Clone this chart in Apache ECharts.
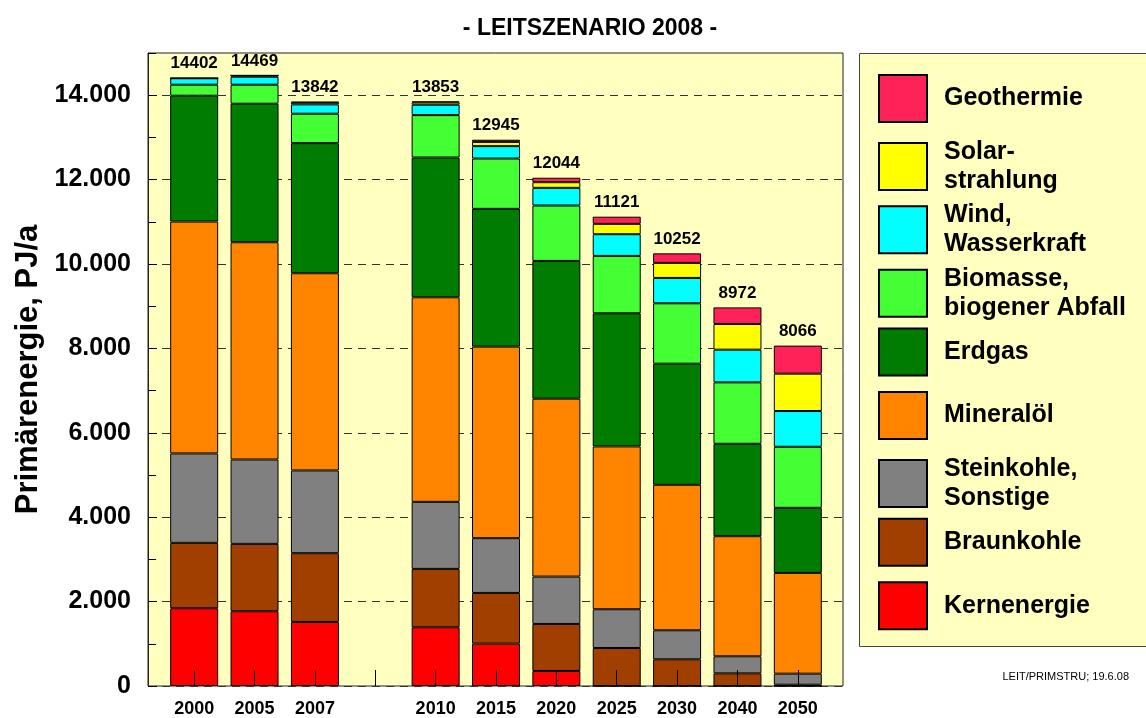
<!DOCTYPE html>
<html>
<head>
<meta charset="utf-8">
<title>Leitszenario 2008 – Primärenergie</title>
<script src="https://cdn.jsdelivr.net/npm/echarts@6/dist/echarts.min.js"></script>
<style>
  html, body { margin: 0; padding: 0; background: #fff; }
  #chart { width: 1146px; height: 718px; }
</style>
</head>
<body>
<div id="chart"></div>
<script>
// ── Daten (PJ/a) ─────────────────────────────────────────────
const years = ['2000', '2005', '2007', '', '2010', '2015', '2020', '2025', '2030', '2040', '2050']

const kernenergie = [1843, 1772, 1518, null, 1392, 1004, 356, 0, 0, 0, 0]
const braunkohle  = [1549, 1596, 1629, null, 1383, 1202, 1115, 901, 633, 300, 30]
const steinkohle  = [2119, 2000, 1961, null, 1589, 1297, 1122, 918, 687, 404, 262]
const mineraloel  = [5495, 5148, 4673, null, 4847, 4538, 4215, 3858, 3448, 2846, 2388]
const erdgas      = [2982, 3282, 3083, null, 3313, 3266, 3265, 3155, 2870, 2190, 1542]
const biomasse    = [261, 451, 697, null, 1004, 1193, 1313, 1360, 1431, 1455, 1447]
const wind        = [153, 189, 221, null, 246, 293, 419, 514, 601, 775, 847]
const solar       = [0, 31, 45, null, 55, 100, 133, 245, 356, 609, 885]
const geothermie  = [0, 0, 15, null, 24, 52, 106, 170, 226, 393, 665]

const totals = [14402, 14469, 13842, null, 13853, 12945, 12044, 11121, 10252, 8972, 8066]

const yTicks = [0, 2000, 4000, 6000, 8000, 10000, 12000, 14000]

// Reihenfolge von unten nach oben
const layers = [
  { name: 'Kernenergie',                   data: kernenergie, color: '#ff0000' },
  { name: 'Braunkohle',                    data: braunkohle,  color: '#a03f00' },
  { name: 'Steinkohle,\nSonstige',         data: steinkohle,  color: '#808080' },
  { name: 'Mineralöl',                     data: mineraloel,  color: '#ff8400' },
  { name: 'Erdgas',                        data: erdgas,      color: '#007c00' },
  { name: 'Biomasse,\nbiogener Abfall',    data: biomasse,    color: '#44ff33' },
  { name: 'Wind,\nWasserkraft',            data: wind,        color: '#00ffff' },
  { name: 'Solar-\nstrahlung',             data: solar,       color: '#ffff00' },
  { name: 'Geothermie',                    data: geothermie,  color: '#ff2258' },
]

const FONT = "'Liberation Sans', Arial, sans-serif"
const BG   = '#ffffc0'

// ── Layout ────────────────────────────────────────────────
const PLOT = { left: 148, right: 843, top: 53, bottom: 686 }
const BARS = { left: 164, right: 828 }   // Kategorienbereich innerhalb des Rahmens

function fmtThousands(v) {
  return String(v).replace(/\B(?=(\d{3})+(?!\d))/g, '.')
}

function buildSeries() {
  const bars = layers.map(l => ({
    name: l.name,
    type: 'bar',
    stack: 'total',
    xAxisIndex: 1,
    yAxisIndex: 2,
    barWidth: 48,
    data: l.data,
    itemStyle: { color: l.color, borderColor: '#000', borderWidth: 1 },
    emphasis: { disabled: true },
    animation: false,
  }))
  // Summenwerte über den Säulen
  bars.push({
    name: 'Summe',
    type: 'scatter',
    xAxisIndex: 1,
    yAxisIndex: 2,
    symbolSize: 0,
    data: totals,
    itemStyle: { opacity: 1 },
    label: {
      show: true,
      position: 'top',
      distance: 6,
      formatter: p => p.value,
      fontFamily: FONT,
      fontWeight: 'bold',
      fontSize: 17,
      color: '#000',
    },
    emphasis: { disabled: true },
    z: 10,
    animation: false,
  })
  return bars
}

// Eine Legende pro Eintrag, damit die Abstände gleichmäßig bleiben
function buildLegends() {
  const order = [...layers].reverse()
  return order.map((l, i) => ({
    data: [{ name: l.name, icon: 'rect' }],
    orient: 'vertical',
    left: 878,
    top: 74 + i * 63.4,
    padding: 0,
    itemWidth: 48,
    itemHeight: 47,
    selectedMode: false,
    textStyle: {
      fontFamily: FONT,
      fontWeight: 'bold',
      fontSize: 25,
      lineHeight: 29,
      color: '#000',
      padding: [0, 0, 0, 12],
    },
  }))
}

const chart = echarts.init(document.getElementById('chart'), null, { renderer: 'canvas' })

chart.setOption({
  backgroundColor: '#fff',
  animation: false,
  title: [
    {
      text: '- LEITSZENARIO 2008 -',
      left: 585,
      top: 12,
      textAlign: 'center',
      textStyle: { fontFamily: FONT, fontWeight: 'bold', fontSize: 23, color: '#000' },
    },
    {
      text: 'LEIT/PRIMSTRU; 19.6.08',
      right: 12,
      top: 666,
      textStyle: { fontFamily: FONT, fontWeight: 'normal', fontSize: 11, color: '#000' },
    },
  ],
  graphic: [{
    type: 'rect',
    shape: { x: 859.5, y: 53.5, width: 290, height: 593 },
    style: { fill: BG, stroke: '#444', lineWidth: 1 },
    z: -1,
  }],
  legend: buildLegends(),
  grid: [
    {
      left: PLOT.left, right: 1146 - PLOT.right, top: PLOT.top, bottom: 718 - PLOT.bottom,
      show: true, backgroundColor: BG, borderColor: '#222', borderWidth: 1,
    },
    {
      left: BARS.left, right: 1146 - BARS.right, top: PLOT.top, bottom: 718 - PLOT.bottom,
    },
  ],
  xAxis: [
    { gridIndex: 0, type: 'value', show: false, min: 0, max: 1 },
    {
      gridIndex: 1,
      type: 'category',
      data: years,
      z: 10,
      axisLine: { show: false },
      axisTick: {
        show: true, inside: true, length: 16, alignWithLabel: true,
        lineStyle: { color: '#000', width: 1 },
      },
      axisLabel: {
        margin: 14, fontFamily: FONT, fontWeight: 'bold', fontSize: 18, color: '#000',
      },
    },
  ],
  yAxis: [
    {
      gridIndex: 0,
      type: 'value',
      min: 0,
      max: 15000,
      interval: 2000,
      name: 'Primärenergie, PJ/a',
      nameLocation: 'middle',
      nameGap: 102,
      nameTextStyle: { fontFamily: FONT, fontWeight: 'bold', fontSize: 31, color: '#000' },
      axisLine: { show: true, lineStyle: { color: '#222' } },
      axisTick: { show: true, inside: true, length: 9, lineStyle: { color: '#000' } },
      axisLabel: {
        margin: 17,
        showMaxLabel: false,
        fontFamily: FONT, fontWeight: 'bold', fontSize: 25, color: '#000',
        formatter: v => (yTicks.includes(v) ? fmtThousands(v) : ''),
      },
      splitLine: {
        show: true,
        showMaxLine: false,
        lineStyle: { color: '#333', width: 1, type: [8, 6] },
      },
    },
    {
      // Zwischenstriche alle 1000 PJ
      gridIndex: 0,
      type: 'value',
      min: 0,
      max: 15000,
      interval: 1000,
      position: 'left',
      axisLine: { show: false },
      axisTick: { show: true, inside: true, length: 8, lineStyle: { color: '#000' } },
      axisLabel: { show: false },
      splitLine: { show: false },
    },
    { gridIndex: 1, type: 'value', min: 0, max: 15000, show: false },
  ],
  series: buildSeries(),
})
</script>
</body>
</html>
